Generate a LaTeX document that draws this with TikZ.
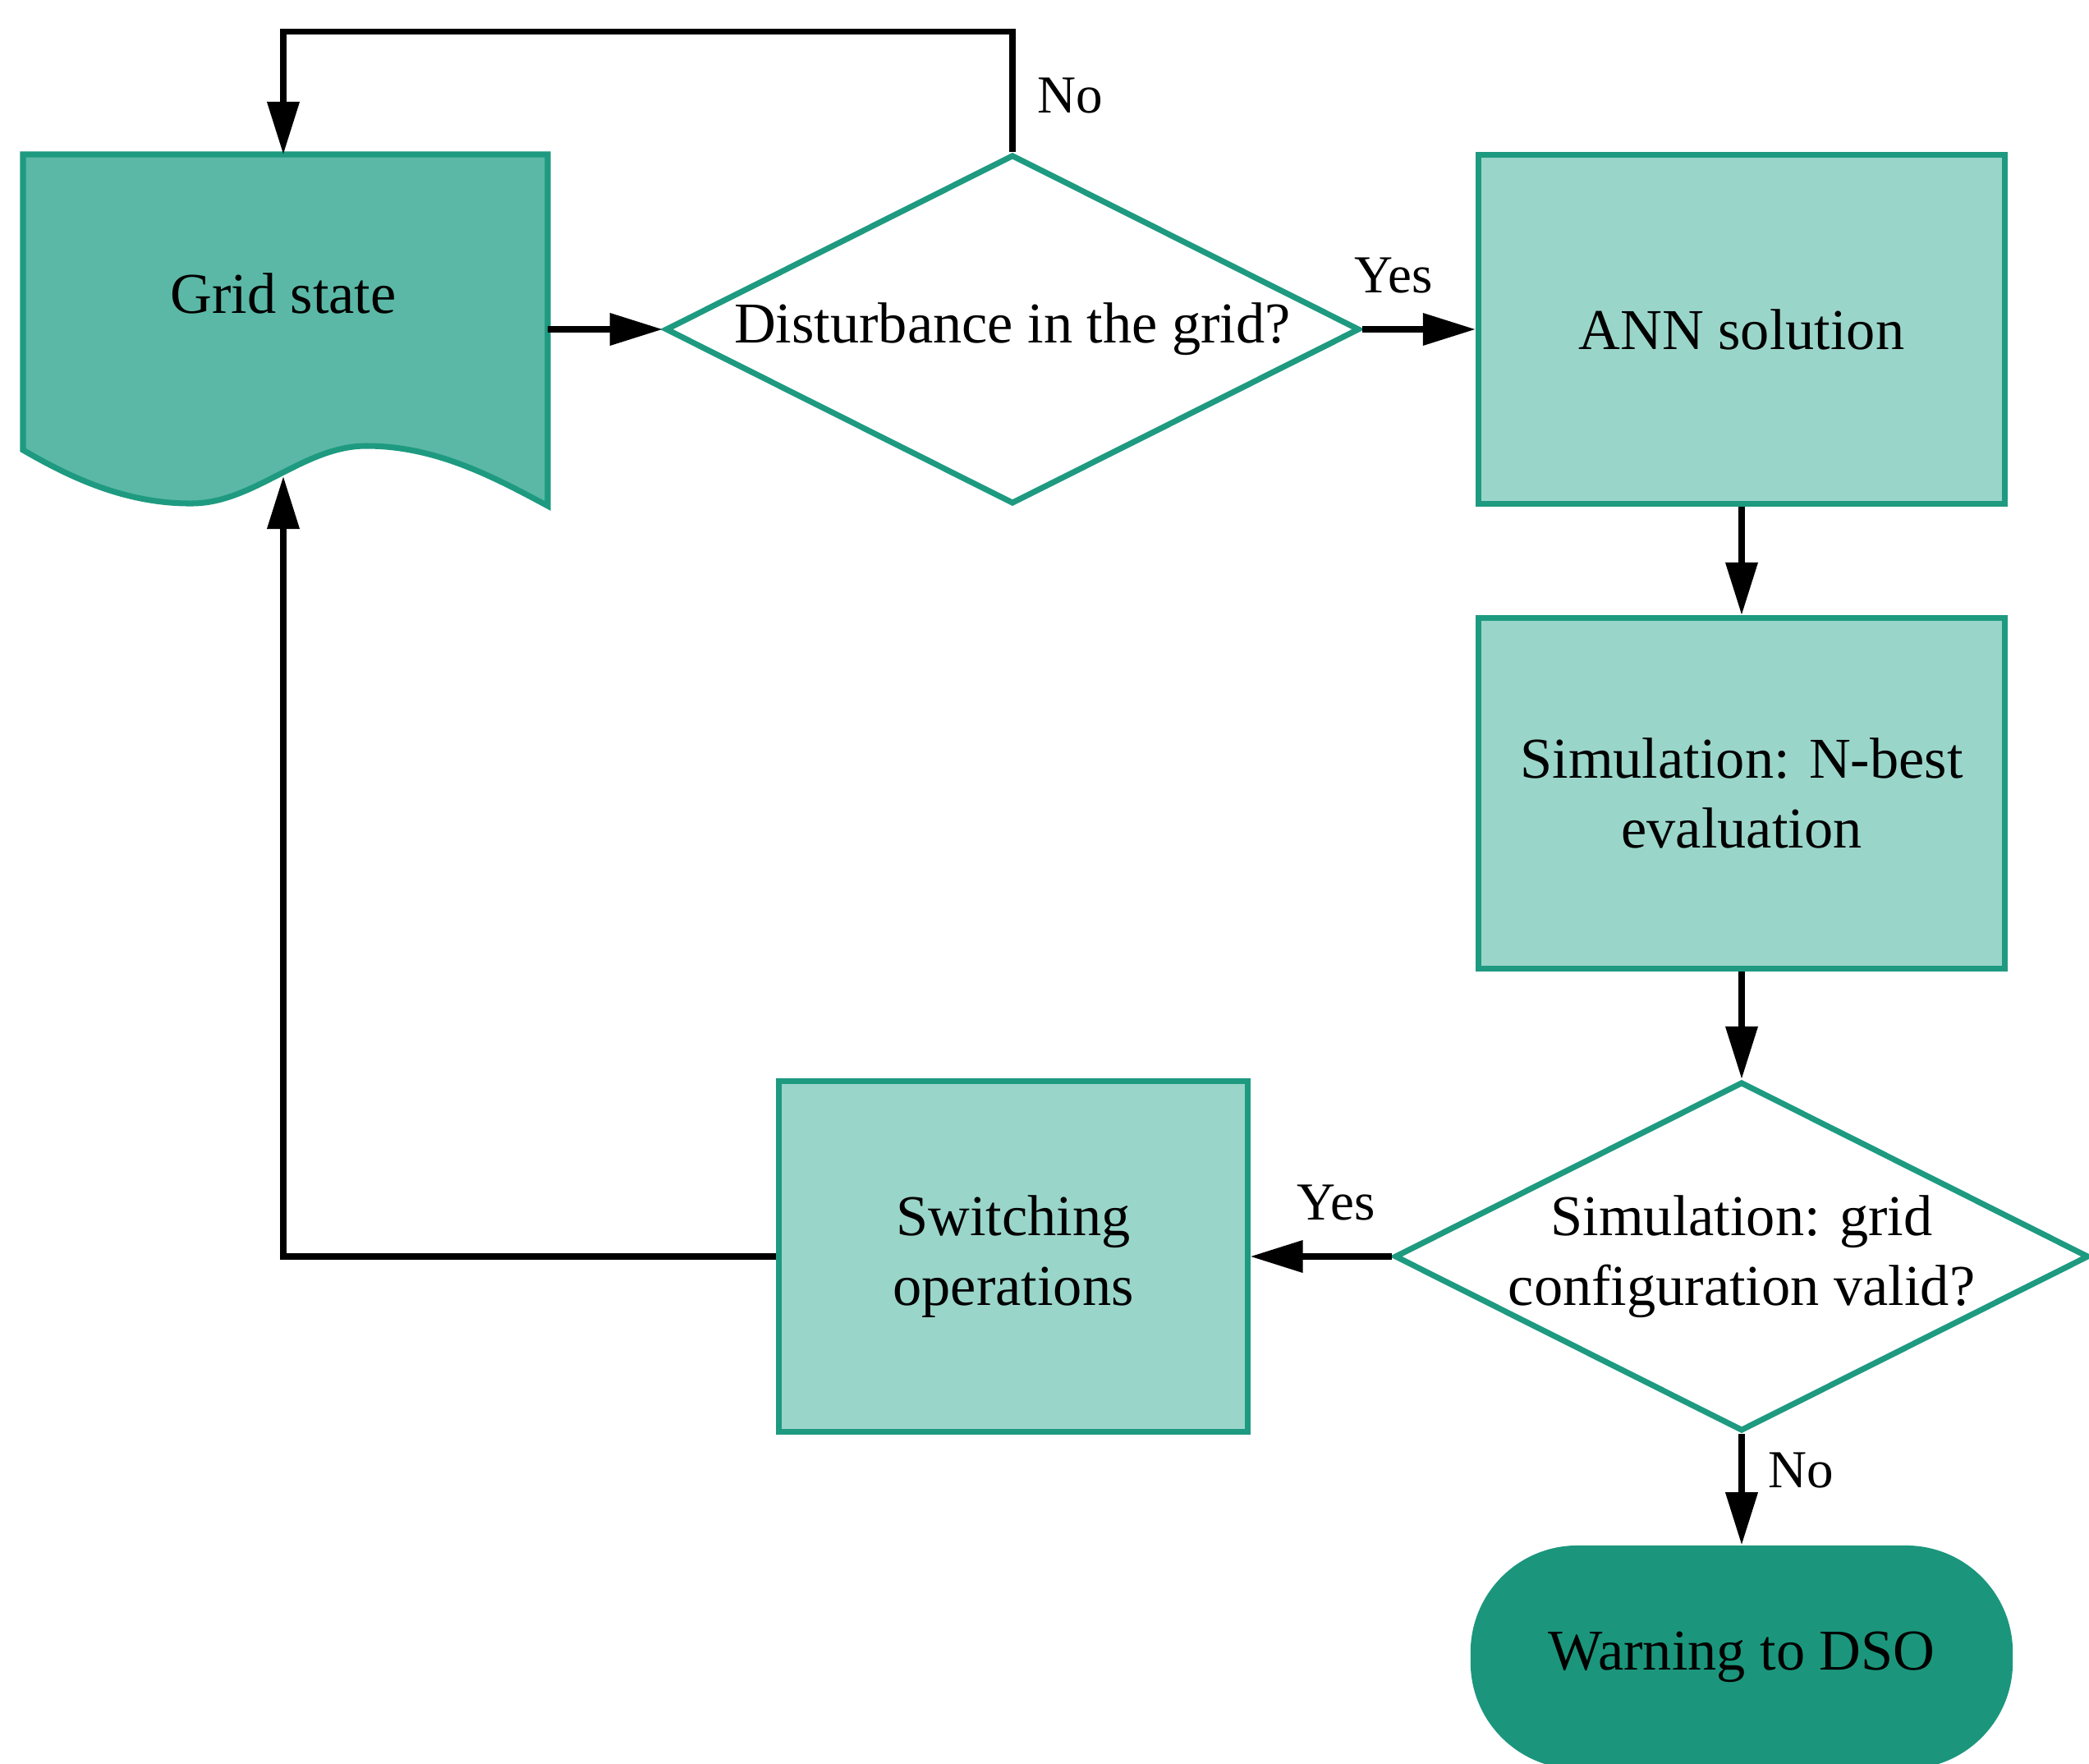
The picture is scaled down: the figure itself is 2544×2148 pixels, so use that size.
\documentclass[tikz,border=0pt]{standalone}
\usepackage{fontspec}
\setmainfont{Liberation Serif}
\usetikzlibrary{shapes.geometric,arrows.meta}
\definecolor{tealborder}{RGB}{30,154,128}
\definecolor{boxfill}{RGB}{154,213,202}
\definecolor{docfill}{RGB}{91,184,166}
\definecolor{termfill}{RGB}{27,150,124}
\begin{document}
\begin{tikzpicture}[x=0.01cm,y=-0.01cm,
  font=\fontsize{20}{24}\selectfont,
  box/.style={draw=tealborder, fill=boxfill, line width=2pt, minimum width=6.41cm, minimum height=4.25cm, align=center, inner sep=0pt},
  dec/.style={diamond, draw=tealborder, fill=white, line width=2pt, inner sep=0pt, minimum width=8.45cm, minimum height=4.25cm},
  conn/.style={line width=2pt, -{Triangle[length=0.64cm,width=0.38cm]}},
  lbl/.style={font=\fontsize{18.5}{22}\selectfont, inner sep=0pt}
]
\useasboundingbox (0,0) rectangle (2544,2148);

% Grid state (document shape)
\path[draw=tealborder, fill=docfill, line width=2pt]
  (28,188) -- (667,188) -- (667,616)
  .. controls (600,580) and (530,543) .. (446,543)
  .. controls (370,543) and (310,612) .. (235,613)
  .. controls (150,614) and (80,578) .. (28,548) -- cycle;
\node (gs) at (345,357) {Grid state};
\coordinate (gsT) at (345,188);
\coordinate (gsR) at (667,401);
\coordinate (gsB) at (345,580);

% Decision 1
\node[dec, label={center:Disturbance in the grid?}] (d1) at (1233,401) {};

% ANN solution
\node[box] (ann) at (2121,401) {ANN solution};

% Simulation N-best
\node[box, minimum height=4.27cm] (sim) at (2121,966) {Simulation: N-best\\evaluation};

% Decision 2
\node[dec, label={[align=center]center:Simulation: grid\\configuration valid?}] (d2) at (2121,1530) {};

% Switching operations
\node[box, minimum width=5.7cm, minimum height=4.27cm] (sw) at (1234,1530) {Switching\\operations};

% Warning to DSO
\node[fill=termfill, rounded corners=1.3cm, minimum width=6.6cm, minimum height=2.72cm, inner sep=0pt] (warn) at (2121,2018) {Warning to DSO};

% Connectors
\draw[conn] (d1.north) -- ++(0,-146) -| (gsT);
\node[lbl] (no1) at (1303,117) {No};

\draw[conn] (gsR) -- (d1.west);

\draw[conn] (d1.east) -- (ann.west);
\node[lbl] (yes1) at (1697,336) {Yes};

\draw[conn] (ann.south) -- (sim.north);
\draw[conn] (sim.south) -- (d2.north);

\draw[conn] (d2.west) -- (sw.east);
\node[lbl] (yes2) at (1627,1465) {Yes};

\draw[conn] (d2.south) -- (warn.north);
\node[lbl] (no2) at (2193,1791) {No};

\draw[conn] (sw.west) -| (gsB);
\end{tikzpicture}
\end{document}
